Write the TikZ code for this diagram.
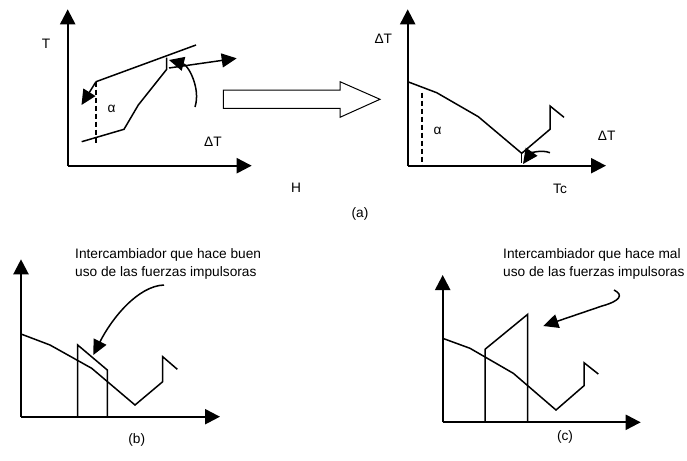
\documentclass[tikz,border=0pt]{standalone}
\usepackage{fontspec}
\setmainfont{Liberation Sans}
\usetikzlibrary{arrows.meta}

\tikzset{
  axis/.style={line width=2.2pt, -{Triangle[length=15pt,width=15pt]}},
  trace/.style={line width=1.5pt},
  pointer/.style={line width=1.5pt, -{Triangle[length=15pt,width=14pt]}},
  guide/.style={line width=1.8pt, dash pattern=on 5pt off 3pt},
  lbl/.style={font=\fontsize{13.7}{18.4}\selectfont, inner sep=0pt},
}

\begin{document}
\begin{tikzpicture}[x=1pt, y=-1pt, line join=miter]
\useasboundingbox (0,0) rectangle (687,460);

% (a) left: T against H
\coordinate (oa) at (67.7,165.7);
\coordinate (ya) at (67.7,9.3);
\coordinate (xa) at (251.7,165.7);
\draw[axis] (oa) -- (ya);
\draw[axis] (oa) -- (xa);
\node[lbl] (tlab) at (46,44) {T};
\node[lbl] (hlab) at (296,188) {H};
\node[lbl] (dtlab) at (213,141.7) {ΔT};
\node[lbl] (alab) at (111.7,109.3) {α};

% hot and cold lines
\coordinate (hot0) at (96,81.7);
\coordinate (hot1) at (196,45);
\draw[trace] (hot0) -- (hot1);
\coordinate (pin) at (166.7,57.5);
\draw[trace] (81.7,141.7) -- (124,129.3) -- (138.3,105) -- (166.7,69.3) -- (pin);
\draw[guide] (hot0) -- (96,143.3);

% arrows in (a) left
\coordinate (lowtip) at (81.5,105);
\draw[pointer] (hot0) -- (lowtip);
\coordinate (curvestart) at (195,107);
\draw[pointer] (curvestart) .. controls (201,88) and (188,65) .. (169,60);
\coordinate (rtip) at (236.7,58.3);
\draw[pointer] (169,68) -- (rtip);

% block arrow
\draw[line width=1pt, fill=white] (223.3,90) -- (340,90) -- (340,81.7) -- (380,99.3)
  -- (340,117.3) -- (340,108.3) -- (223.3,108.3) -- cycle;

% (a) right: dT against Tc
\coordinate (ob) at (407.7,165.7);
\coordinate (yb) at (407.7,9.3);
\coordinate (xb) at (606,165.7);
\draw[axis] (ob) -- (yb);
\draw[axis] (ob) -- (xb);
\node[lbl] (dtb) at (383.3,38.3) {ΔT};
\node[lbl] (dtc) at (606.7,136) {ΔT};
\node[lbl] (tclab) at (560,189.3) {Tc};
\node[lbl] (ab) at (437.7,131) {α};
\node[lbl] (alabel) at (360,214) {(a)};

\coordinate (pinch) at (521.7,153.3);
\draw[trace] (407.7,81.7) -- (436.7,92.7) -- (478.3,116.7) -- (pinch)
  -- (550,129.3) -- (550,106) -- (564,117.3);
\draw[trace] (pinch) -- (521.7,163);
\draw[guide] (421.7,92.7) -- (421.7,165.7);
\coordinate (pinchtip) at (523,164);
\draw[pointer] (550,152.7) .. controls (540,149) and (530,154) .. (pinchtip);

% (b)
\coordinate (oc) at (21,416.7);
\coordinate (yc) at (21,259.3);
\coordinate (xc) at (220,416.7);
\draw[axis] (oc) -- (yc);
\draw[axis] (oc) -- (xc);
\node[lbl, anchor=north west, align=left] (goodtxt) at (75,248)
  {Intercambiador que hace buen\\uso de las fuerzas impulsoras};
\node[lbl] (blab) at (136.7,440) {(b)};
\draw[trace] (21,334) -- (50,345) -- (91.7,368.3) -- (135,405) -- (162.7,381.7)
  -- (162.7,356.7) -- (177.3,369.3);
\draw[trace] (77.7,416.7) -- (77.7,345) -- (107.3,370) -- (107.3,416.7);
\coordinate (goodfrom) at (164,285);
\coordinate (goodto) at (93.3,355);
\draw[pointer] (goodfrom) .. controls (138,286) and (112,318) .. (goodto);

% (c)
\coordinate (od) at (442.7,422.3);
\coordinate (yd) at (442.7,275);
\coordinate (xd) at (640.7,422.3);
\draw[axis] (od) -- (yd);
\draw[axis] (od) -- (xd);
\node[lbl, anchor=north west, align=left] (badtxt) at (503,248)
  {Intercambiador que hace mal\\uso de las fuerzas impulsoras};
\node[lbl] (clab) at (565,436.7) {(c)};
\draw[trace] (442.7,338.3) -- (470,348.3) -- (513.3,373.3) -- (556,410) -- (584,385.7)
  -- (584,362.7) -- (598.3,374);
\draw[trace] (485,422.3) -- (485,349.3) -- (527.7,314.3) -- (527.7,422.3);
\coordinate (badfrom) at (614,290);
\coordinate (badto) at (543.3,326);
\draw[pointer] (badfrom) .. controls (624,295) and (620,301) .. (602,306) -- (badto);

\end{tikzpicture}
\end{document}
